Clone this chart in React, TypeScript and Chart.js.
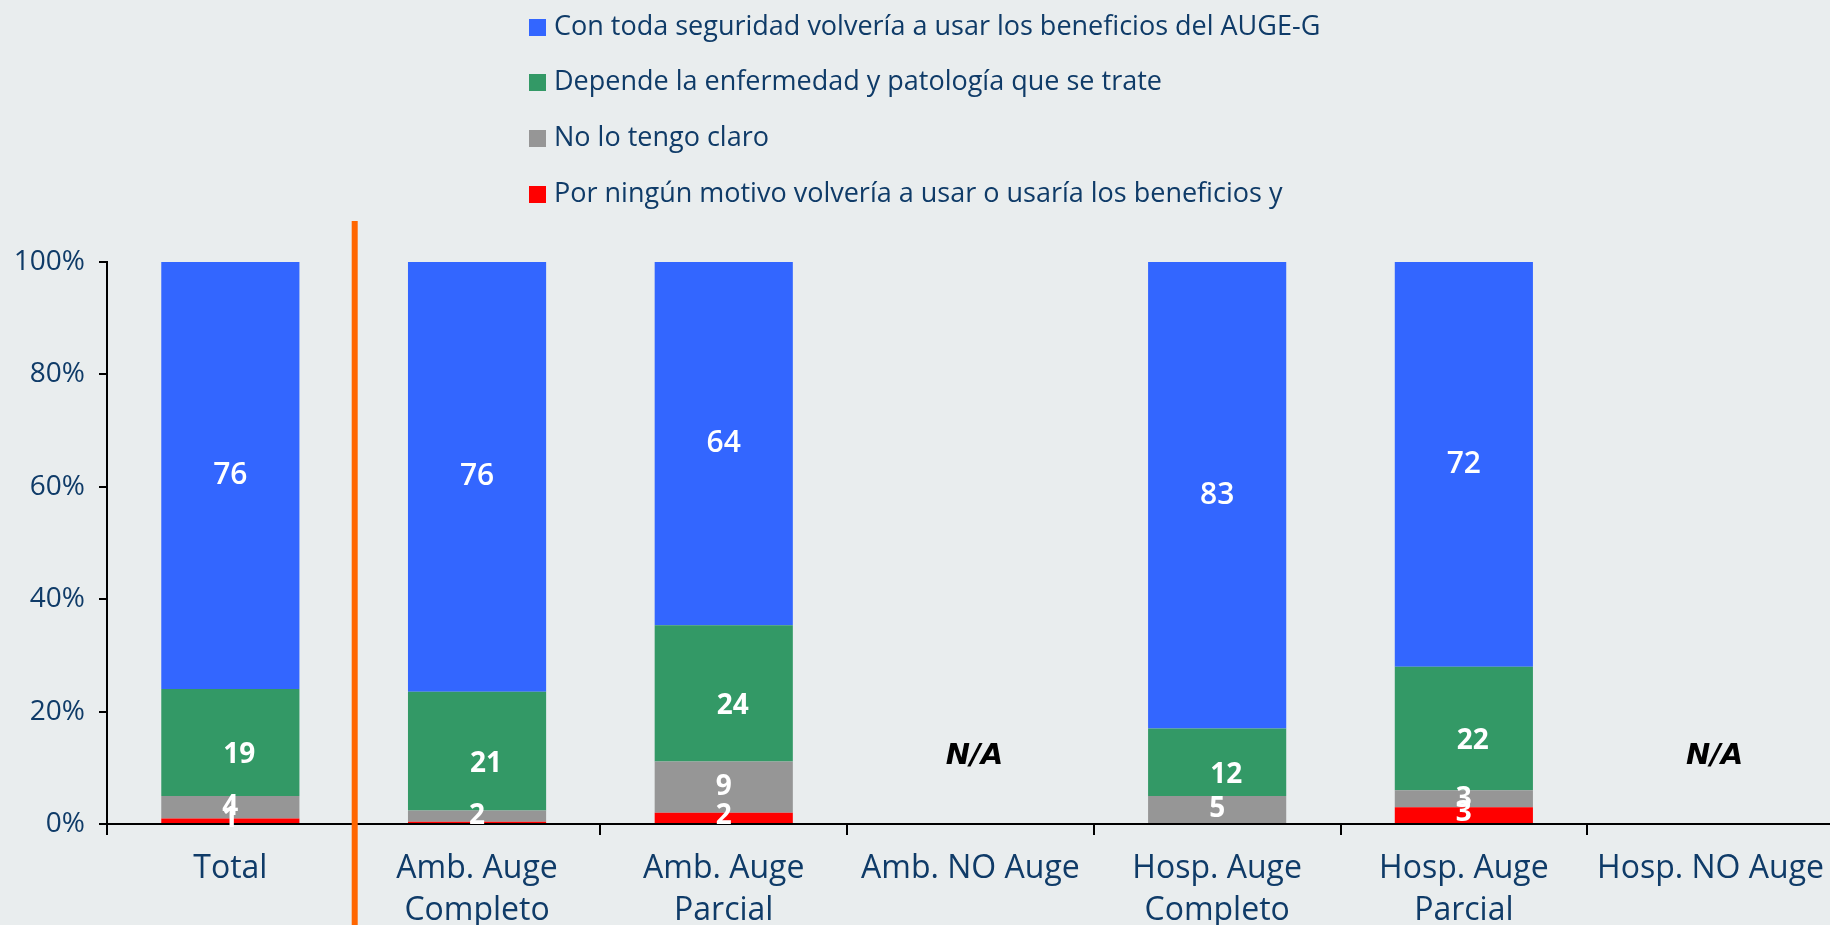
import React, { useEffect, useRef } from "react";
import { Chart, registerables } from "chart.js";

Chart.register(...registerables);

// ---------------- data ----------------
const categories: (string | string[])[] = [
  "Total",
  ["Amb. Auge", "Completo"],
  ["Amb. Auge", "Parcial"],
  "Amb. NO Auge",
  ["Hosp. Auge", "Completo"],
  ["Hosp. Auge", "Parcial"],
  "Hosp. NO Auge",
];

const seriesNames = [
  "Por ningún motivo volvería a usar o usaría los beneficios y",
  "No lo tengo claro",
  "Depende la enfermedad y patología que se trate",
  "Con toda seguridad volvería a usar los beneficios del AUGE-G",
];

const porNingunMotivo: (number | null)[] = [1, 0.4, 2, null, 0, 3, null];
const noLoTengoClaro: (number | null)[] = [4, 2, 9, null, 5, 3, null];
const dependeEnfermedad: (number | null)[] = [19, 21, 24, null, 12, 22, null];
const conTodaSeguridad: (number | null)[] = [76, 76, 64, null, 83, 72, null];

const yTickValues = [0, 20, 40, 60, 80, 100];
const naText = "N/A";
const naLevel = 12;

// ---------------- styles ----------------
const colors = ["#FF0000", "#969696", "#339966", "#3366FF"];
const navy = "#0F3B68";
const bg = "#E9EDEE";
// label nudges per series (px), style only
const labelDx = [0, 0, 9, 0];
const labelDy = [-2, 0, 13, 0];

const rawSeries = [porNingunMotivo, noLoTengoClaro, dependeEnfermedad, conTodaSeguridad];

const totals = categories.map((_, i) =>
  rawSeries.reduce((s, arr) => s + (arr[i] ?? 0), 0)
);
const pctSeries = rawSeries.map((arr) =>
  arr.map((v, i) => (v == null || totals[i] === 0 ? null : (v / totals[i]) * 100))
);

const overlay = {
  id: "overlay",
  afterDraw(chart: any) {
    const ctx: CanvasRenderingContext2D = chart.ctx;
    const xs = chart.scales.x;
    const ys = chart.scales.y;

    // data labels
    chart.data.datasets.forEach((_: any, di: number) => {
      const meta = chart.getDatasetMeta(di);
      meta.data.forEach((el: any, i: number) => {
        const raw = rawSeries[di][i];
        if (raw == null || raw < 1) return;
        const { x, y, base } = el.getProps(["x", "y", "base"], true);
        ctx.save();
        ctx.fillStyle = "#FFFFFF";
        ctx.font = di === 3 ? '600 30px "Open Sans"' : '700 28px "Open Sans"';
        ctx.textAlign = "center";
        ctx.textBaseline = "middle";
        ctx.fillText(String(Math.round(raw)), x + labelDx[di], (y + base) / 2 + labelDy[di]);
        ctx.restore();
      });
    });

    // N/A labels
    categories.forEach((_, i) => {
      if (totals[i] !== 0) return;
      ctx.save();
      ctx.fillStyle = "#000000";
      ctx.font = 'italic 700 29px "DejaVu Sans"';
      ctx.textAlign = "center";
      ctx.textBaseline = "middle";
      ctx.fillText(naText, xs.getPixelForValue(i) + 4, ys.getPixelForValue(naLevel));
      ctx.restore();
    });

    // orange separator
    const sepX = (xs.getPixelForValue(0) + xs.getPixelForValue(1)) / 2 + 1;
    ctx.save();
    ctx.fillStyle = "#FF6600";
    ctx.fillRect(sepX - 3, 221, 6, chart.height - 221);
    ctx.restore();

    // legend (top to bottom: reverse of stacking order)
    const order = [3, 2, 1, 0];
    const rowY = [27, 82, 138, 194];
    ctx.save();
    ctx.font = '400 27px "Open Sans"';
    ctx.textBaseline = "middle";
    ctx.textAlign = "left";
    order.forEach((di, r) => {
      ctx.fillStyle = colors[di];
      ctx.fillRect(529, rowY[r] - 8, 17, 17);
      ctx.fillStyle = navy;
      ctx.fillText(seriesNames[di], 554, rowY[r]);
    });
    ctx.restore();
  },
};

export default function App() {
  const ref = useRef<HTMLCanvasElement | null>(null);

  useEffect(() => {
    if (!ref.current) return;
    const chart = new Chart(ref.current, {
      type: "bar",
      data: {
        labels: categories as any,
        datasets: rawSeries.map((_, di) => ({
          label: seriesNames[di],
          data: pctSeries[di] as any,
          backgroundColor: colors[di],
          borderWidth: 0,
          barPercentage: 0.56,
          categoryPercentage: 1,
        })),
      },
      options: {
        animation: false,
        responsive: true,
        maintainAspectRatio: false,
        layout: { padding: { top: 262, left: 0, right: 0, bottom: 0 } },
        plugins: {
          legend: { display: false },
          tooltip: { enabled: false },
        },
        scales: {
          x: {
            stacked: true,
            grid: {
              display: true,
              drawOnChartArea: false,
              drawTicks: true,
              tickLength: 11,
              color: "#000",
              lineWidth: 2,
              offset: true,
            },
            border: { display: true, color: "#000", width: 2, z: 1 },
            ticks: {
              color: navy,
              font: { family: "Open Sans", size: 32, lineHeight: 1.34 },
              padding: 12,
              maxRotation: 0,
              autoSkip: false,
            },
            afterFit: (s: any) => {
              s.height = 101;
            },
          },
          y: {
            stacked: true,
            min: 0,
            max: 100,
            afterBuildTicks: (s: any) => {
              s.ticks = yTickValues.map((v) => ({ value: v }));
            },
            ticks: {
              callback: (v: any) => v + "%",
              color: navy,
              font: { family: "Open Sans", size: 28 },
              padding: 14,
            },
            grid: {
              drawOnChartArea: false,
              tickLength: 8,
              color: "#000",
              lineWidth: 2,
            },
            border: { display: true, color: "#000", width: 2, z: 1 },
            afterFit: (s: any) => {
              s.width = 107;
            },
          },
        },
      },
      plugins: [overlay],
    });
    return () => chart.destroy();
  }, []);

  return (
    <div
      style={{
        position: "fixed",
        left: 0,
        top: 0,
        width: 1830,
        height: 925,
        overflow: "hidden",
        background: bg,
      }}
    >
      <div style={{ position: "absolute", left: 0, top: 0, width: 1836, height: 925 }}>
        <canvas ref={ref} />
      </div>
    </div>
  );
}
